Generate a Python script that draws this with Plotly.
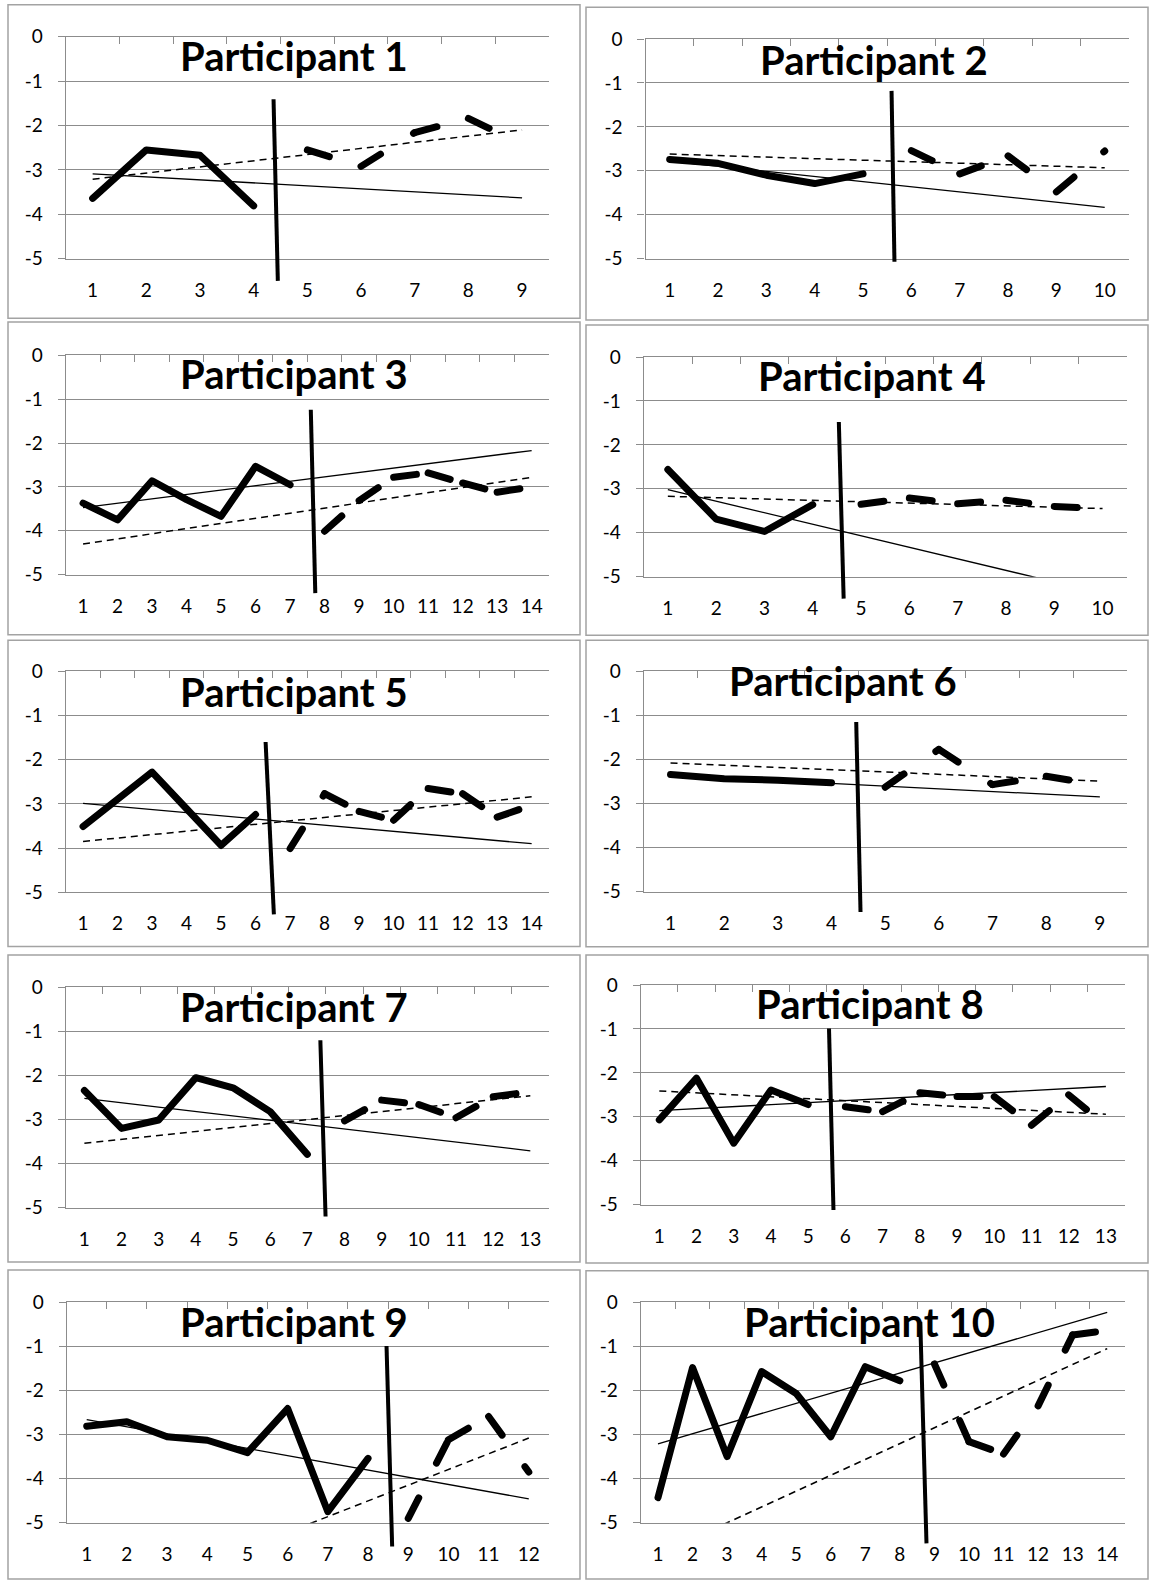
import plotly.graph_objects as go

# ---------------------------------------------------------------- data
Y_TICK_VALUES = [0, -1, -2, -3, -4, -5]
Y_TICK_LABELS = ["0", "-1", "-2", "-3", "-4", "-5"]

P1_TITLE = "Participant 1"
P1_SESSIONS = [1, 2, 3, 4, 5, 6, 7, 8, 9]
P1_BASELINE = [-3.64, -2.55, -2.67, -3.81]
P1_TREATMENT = [-2.55, -2.92, -2.16, -1.84, -2.42]
P1_BASELINE_TREND = [-3.09, -3.63]      # trend value at first / last session
P1_TREATMENT_TREND = [-3.21, -2.10]
P1_PHASE_X = [4.37, 4.45]               # phase-change line, top / bottom
P1_PHASE_Y = [-1.41, -5.50]

P2_TITLE = "Participant 2"
P2_SESSIONS = [1, 2, 3, 4, 5, 6, 7, 8, 9, 10]
P2_BASELINE = [-2.74, -2.83, -3.10, -3.29, -3.07]
P2_TREATMENT = [-2.54, -3.07, -2.66, -3.48, -2.55]
P2_BASELINE_TREND = [-2.78, -3.83]
P2_TREATMENT_TREND = [-2.62, -2.93]
P2_PHASE_X = [5.59, 5.65]
P2_PHASE_Y = [-1.18, -5.07]

P3_TITLE = "Participant 3"
P3_SESSIONS = [1, 2, 3, 4, 5, 6, 7, 8, 9, 10, 11, 12, 13, 14]
P3_BASELINE = [-3.37, -3.75, -2.86, -3.29, -3.67, -2.53, -2.95]
P3_TREATMENT = [-4.01, -3.31, -2.78, -2.68, -2.91, -3.12, -3.00]
P3_BASELINE_TREND = [-3.47, -2.17]
P3_TREATMENT_TREND = [-4.30, -2.78]
P3_PHASE_X = [7.60, 7.73]
P3_PHASE_Y = [-1.24, -5.42]

P4_TITLE = "Participant 4"
P4_SESSIONS = [1, 2, 3, 4, 5, 6, 7, 8, 9, 10]
P4_BASELINE = [-2.56, -3.69, -3.97, -3.36]
P4_TREATMENT = [-3.35, -3.21, -3.34, -3.26, -3.40, -3.45]
P4_BASELINE_TREND = [-3.02, -5.38]
P4_TREATMENT_TREND = [-3.17, -3.45]
P4_PHASE_X = [4.54, 4.64]
P4_PHASE_Y = [-1.48, -5.50]

P5_TITLE = "Participant 5"
P5_SESSIONS = [1, 2, 3, 4, 5, 6, 7, 8, 9, 10, 11, 12, 13, 14]
P5_BASELINE = [-3.51, -2.88, -2.28, -3.11, -3.94, -3.24]
P5_TREATMENT = [-4.01, -2.77, -3.17, -3.37, -2.65, -2.77, -3.30, -3.03]
P5_BASELINE_TREND = [-2.99, -3.90]
P5_TREATMENT_TREND = [-3.85, -2.84]
P5_PHASE_X = [6.29, 6.53]
P5_PHASE_Y = [-1.60, -5.50]

P6_TITLE = "Participant 6"
P6_SESSIONS = [1, 2, 3, 4, 5, 6, 7, 8, 9]
P6_BASELINE = [-2.34, -2.44, -2.47, -2.53]
P6_TREATMENT = [-2.63, -1.77, -2.57, -2.38, -2.58]
P6_BASELINE_TREND = [-2.36, -2.85]
P6_TREATMENT_TREND = [-2.08, -2.49]
P6_PHASE_X = [4.46, 4.54]
P6_PHASE_Y = [-1.15, -5.46]

P7_TITLE = "Participant 7"
P7_SESSIONS = [1, 2, 3, 4, 5, 6, 7, 8, 9, 10, 11, 12, 13]
P7_BASELINE = [-2.34, -3.20, -3.01, -2.05, -2.28, -2.82, -3.79]
P7_TREATMENT = [-3.03, -2.56, -2.66, -2.96, -2.48, -2.37]
P7_BASELINE_TREND = [-2.52, -3.71]
P7_TREATMENT_TREND = [-3.54, -2.46]
P7_PHASE_X = [7.35, 7.49]
P7_PHASE_Y = [-1.20, -5.20]

P8_TITLE = "Participant 8"
P8_SESSIONS = [1, 2, 3, 4, 5, 6, 7, 8, 9, 10, 11, 12, 13]
P8_BASELINE = [-3.07, -2.12, -3.60, -2.39, -2.72]
P8_TREATMENT = [-2.77, -2.88, -2.45, -2.54, -2.54, -3.19, -2.50, -3.20]
P8_BASELINE_TREND = [-2.86, -2.31]
P8_TREATMENT_TREND = [-2.41, -2.94]
P8_PHASE_X = [5.56, 5.68]
P8_PHASE_Y = [-0.99, -5.12]

P9_TITLE = "Participant 9"
P9_SESSIONS = [1, 2, 3, 4, 5, 6, 7, 8, 9, 10, 11, 12]
P9_BASELINE = [-2.81, -2.71, -3.05, -3.13, -3.41, -2.41, -4.75, -3.54]
P9_TREATMENT = [-4.90, -3.12, -2.59, -3.85]
P9_BASELINE_TREND = [-2.66, -4.46]
P9_TREATMENT_TREND = [-7.00, -3.08]
P9_PHASE_X = [8.46, 8.60]
P9_PHASE_Y = [-0.99, -5.54]

P10_TITLE = "Participant 10"
P10_SESSIONS = [1, 2, 3, 4, 5, 6, 7, 8, 9, 10, 11, 12, 13, 14]
P10_BASELINE = [-4.43, -1.48, -3.50, -1.57, -2.07, -3.05, -1.46, -1.78]
P10_TREATMENT = [-1.40, -3.16, -3.44, -2.35, -0.74, -0.64]
P10_BASELINE_TREND = [-3.21, -0.23]
P10_TREATMENT_TREND = [-5.72, -1.05]
P10_PHASE_X = [8.59, 8.77]
P10_PHASE_Y = [-0.44, -5.47]

PARTICIPANTS = [
    (P1_TITLE, P1_SESSIONS, P1_BASELINE, P1_TREATMENT, P1_BASELINE_TREND, P1_TREATMENT_TREND, P1_PHASE_X, P1_PHASE_Y),
    (P2_TITLE, P2_SESSIONS, P2_BASELINE, P2_TREATMENT, P2_BASELINE_TREND, P2_TREATMENT_TREND, P2_PHASE_X, P2_PHASE_Y),
    (P3_TITLE, P3_SESSIONS, P3_BASELINE, P3_TREATMENT, P3_BASELINE_TREND, P3_TREATMENT_TREND, P3_PHASE_X, P3_PHASE_Y),
    (P4_TITLE, P4_SESSIONS, P4_BASELINE, P4_TREATMENT, P4_BASELINE_TREND, P4_TREATMENT_TREND, P4_PHASE_X, P4_PHASE_Y),
    (P5_TITLE, P5_SESSIONS, P5_BASELINE, P5_TREATMENT, P5_BASELINE_TREND, P5_TREATMENT_TREND, P5_PHASE_X, P5_PHASE_Y),
    (P6_TITLE, P6_SESSIONS, P6_BASELINE, P6_TREATMENT, P6_BASELINE_TREND, P6_TREATMENT_TREND, P6_PHASE_X, P6_PHASE_Y),
    (P7_TITLE, P7_SESSIONS, P7_BASELINE, P7_TREATMENT, P7_BASELINE_TREND, P7_TREATMENT_TREND, P7_PHASE_X, P7_PHASE_Y),
    (P8_TITLE, P8_SESSIONS, P8_BASELINE, P8_TREATMENT, P8_BASELINE_TREND, P8_TREATMENT_TREND, P8_PHASE_X, P8_PHASE_Y),
    (P9_TITLE, P9_SESSIONS, P9_BASELINE, P9_TREATMENT, P9_BASELINE_TREND, P9_TREATMENT_TREND, P9_PHASE_X, P9_PHASE_Y),
    (P10_TITLE, P10_SESSIONS, P10_BASELINE, P10_TREATMENT, P10_BASELINE_TREND, P10_TREATMENT_TREND, P10_PHASE_X, P10_PHASE_Y),
]

# ---------------------------------------------------------------- layout geometry (pixels)
W, H = 1150, 1581
Y_MIN, Y_MAX = -5, 0

# plot area: x_left, x_right, y of value 0, y of value -5
PLOT_AREAS = [
    (65.8, 548.9, 36.7, 258.7),
    (645.5, 1128.9, 39.0, 258.7),
    (65.8, 548.9, 355.3, 574.7),
    (643.7, 1126.7, 357.0, 576.7),
    (65.8, 548.9, 671.3, 892.3),
    (643.7, 1126.7, 671.3, 891.7),
    (65.8, 548.9, 987.3, 1207.7),
    (640.7, 1124.5, 985.0, 1204.7),
    (66.6, 548.9, 1302.3, 1522.7),
    (640.7, 1124.5, 1302.3, 1522.7),
]
# chart boxes: x0, x1, y0, y1
BOXES = [
    (8, 580, 4.7, 318.3), (586, 1148, 7.3, 320),
    (8, 580, 322, 634.7), (586, 1148, 325, 635.3),
    (8, 580, 640.3, 946.5), (586, 1148, 640.3, 946.7),
    (8, 580, 955, 1262), (586, 1148, 955, 1263),
    (8, 580, 1270, 1579), (586, 1148, 1270.7, 1579),
]
# title centre x and baseline y
TITLE_POS = [
    (293.5, 70.7), (873.5, 74.0),
    (293.5, 388.7), (871.7, 390.7),
    (293.5, 706.0), (842.5, 695.3),
    (293.5, 1021.7), (869.5, 1018.3),
    (293.5, 1336.7), (869.8, 1336.7),
]

FONT = "Lato"
GRID = "#8c8c8c"
BOX = "#a3a3a3"
TITLE_SIZE = 40
TICK_SIZE = 19
THICK = 7
TREND_W = 1.3
PHASE_W = 4


def px_x(v):
    return v / W


def px_y(v):
    return 1 - v / H


fig = go.Figure()
shapes = []
annotations = []
layout = {}

for i, (title, sessions, base, treat, btrend, ttrend, phx, phy) in enumerate(PARTICIPANTS, start=1):
    xl, xr, yt, yb = PLOT_AREAS[i - 1]
    n = len(sessions)
    nb = len(base)
    xa = "x" if i == 1 else f"x{i}"
    ya = "y" if i == 1 else f"y{i}"
    xtop = f"x{i + 10}"
    xs_end = [sessions[0], sessions[-1]]

    # trend lines
    fig.add_trace(go.Scatter(x=xs_end, y=btrend, mode="lines", xaxis=xa, yaxis=ya,
                             line=dict(color="black", width=TREND_W), showlegend=False, hoverinfo="skip"))
    fig.add_trace(go.Scatter(x=xs_end, y=ttrend, mode="lines", xaxis=xa, yaxis=ya,
                             line=dict(color="black", width=TREND_W + 0.2, dash="7px,5px"),
                             showlegend=False, hoverinfo="skip"))
    # baseline phase
    fig.add_trace(go.Scatter(x=sessions[:nb], y=base, mode="lines", xaxis=xa, yaxis=ya,
                             line=dict(color="black", width=THICK), showlegend=False))
    # treatment phase: each segment drawn separately so the dash pattern restarts at every point
    tx, ty = [], []
    tsess = sessions[nb:]
    for k in range(len(treat) - 1):
        tx += [tsess[k], tsess[k + 1], None]
        ty += [treat[k], treat[k + 1], None]
    fig.add_trace(go.Scatter(x=tx, y=ty, mode="lines", xaxis=xa, yaxis=ya, connectgaps=False,
                             line=dict(color="black", width=THICK, dash="23px,39px"), showlegend=False))
    # dummy trace for the top tick axis
    fig.add_trace(go.Scatter(x=[None], y=[None], mode="lines", xaxis=xtop, yaxis=ya,
                             showlegend=False, hoverinfo="skip"))

    xname = "xaxis" if i == 1 else f"xaxis{i}"
    yname = "yaxis" if i == 1 else f"yaxis{i}"
    layout[xname] = dict(
        domain=[px_x(xl), px_x(xr)], anchor=ya, range=[0.5, n + 0.5],
        tickmode="array", tickvals=sessions, ticktext=[str(s) for s in sessions],
        showgrid=False, zeroline=False, showline=True, linecolor=GRID, linewidth=1.2,
        ticks="", tickfont=dict(family=FONT, size=TICK_SIZE, color="black"),
        ticklabelstandoff=14, fixedrange=True, automargin=False,
    )
    layout[f"xaxis{i + 10}"] = dict(
        overlaying=xa, anchor=ya, side="top", range=[0.5, n + 0.5],
        tickmode="array", tickvals=[s - 0.5 for s in sessions] + [n + 0.5],
        showticklabels=False, ticks="inside", ticklen=7, tickcolor=GRID, tickwidth=1.2,
        showline=True, linecolor=GRID, linewidth=1.2, showgrid=False, zeroline=False,
        fixedrange=True, automargin=False,
    )
    layout[yname] = dict(
        domain=[px_y(yb), px_y(yt)], anchor=xa, range=[Y_MIN, Y_MAX],
        tickmode="array", tickvals=Y_TICK_VALUES, ticktext=Y_TICK_LABELS,
        showgrid=True, gridcolor=GRID, gridwidth=1.2, zeroline=False,
        showline=True, linecolor=GRID, linewidth=1.2,
        ticks="outside", ticklen=7, tickcolor=GRID, tickwidth=1.2,
        tickfont=dict(family=FONT, size=TICK_SIZE, color="black"),
        ticklabelstandoff=11, fixedrange=True, automargin=False,
    )

    # phase-change line (extends below the plot area like the hand-drawn original)
    shapes.append(dict(
        type="line", xref=f"{xa} domain", yref=f"{ya} domain",
        x0=(phx[0] - 0.5) / n, x1=(phx[1] - 0.5) / n,
        y0=(phy[0] - Y_MIN) / (Y_MAX - Y_MIN), y1=(phy[1] - Y_MIN) / (Y_MAX - Y_MIN),
        line=dict(color="black", width=PHASE_W), layer="above",
    ))

    # chart box
    bx0, bx1, by0, by1 = BOXES[i - 1]
    shapes.append(dict(type="rect", xref="paper", yref="paper",
                       x0=px_x(bx0), x1=px_x(bx1), y0=px_y(by1), y1=px_y(by0),
                       line=dict(color=BOX, width=1.5), fillcolor="rgba(0,0,0,0)", layer="below"))

    tx_c, t_base = TITLE_POS[i - 1]
    annotations.append(dict(
        text=f"<b>{title}</b>", xref="paper", yref="paper",
        x=px_x(tx_c), y=px_y(t_base - 0.36 * TITLE_SIZE), xanchor="center", yanchor="middle",
        showarrow=False, font=dict(family=FONT, size=TITLE_SIZE, color="black"),
    ))

fig.update_layout(
    width=W, height=H, margin=dict(l=0, r=0, t=0, b=0, autoexpand=False),
    paper_bgcolor="white", plot_bgcolor="white",
    showlegend=False, shapes=shapes, annotations=annotations,
    font=dict(family=FONT, color="black"),
    **layout,
)

# pin the figure to the top-left corner of the page, and give the thick data
# lines round caps / joins like the original spreadsheet chart
PIN_SCRIPT = (
    "document.documentElement.style.margin='0';document.body.style.margin='0';"
    "document.body.style.overflow='hidden';"
    "var d=document.getElementById('{plot_id}');"
    "d.style.position='fixed';d.style.left='0px';d.style.top='0px';"
    "d.querySelectorAll('path.js-line').forEach(function(p){"
    "if(parseFloat(p.style.strokeWidth)>=5){p.style.strokeLinecap='round';p.style.strokeLinejoin='round';}});"
)

fig.write_html("out.html", config={"displayModeBar": False}, post_script=PIN_SCRIPT)
